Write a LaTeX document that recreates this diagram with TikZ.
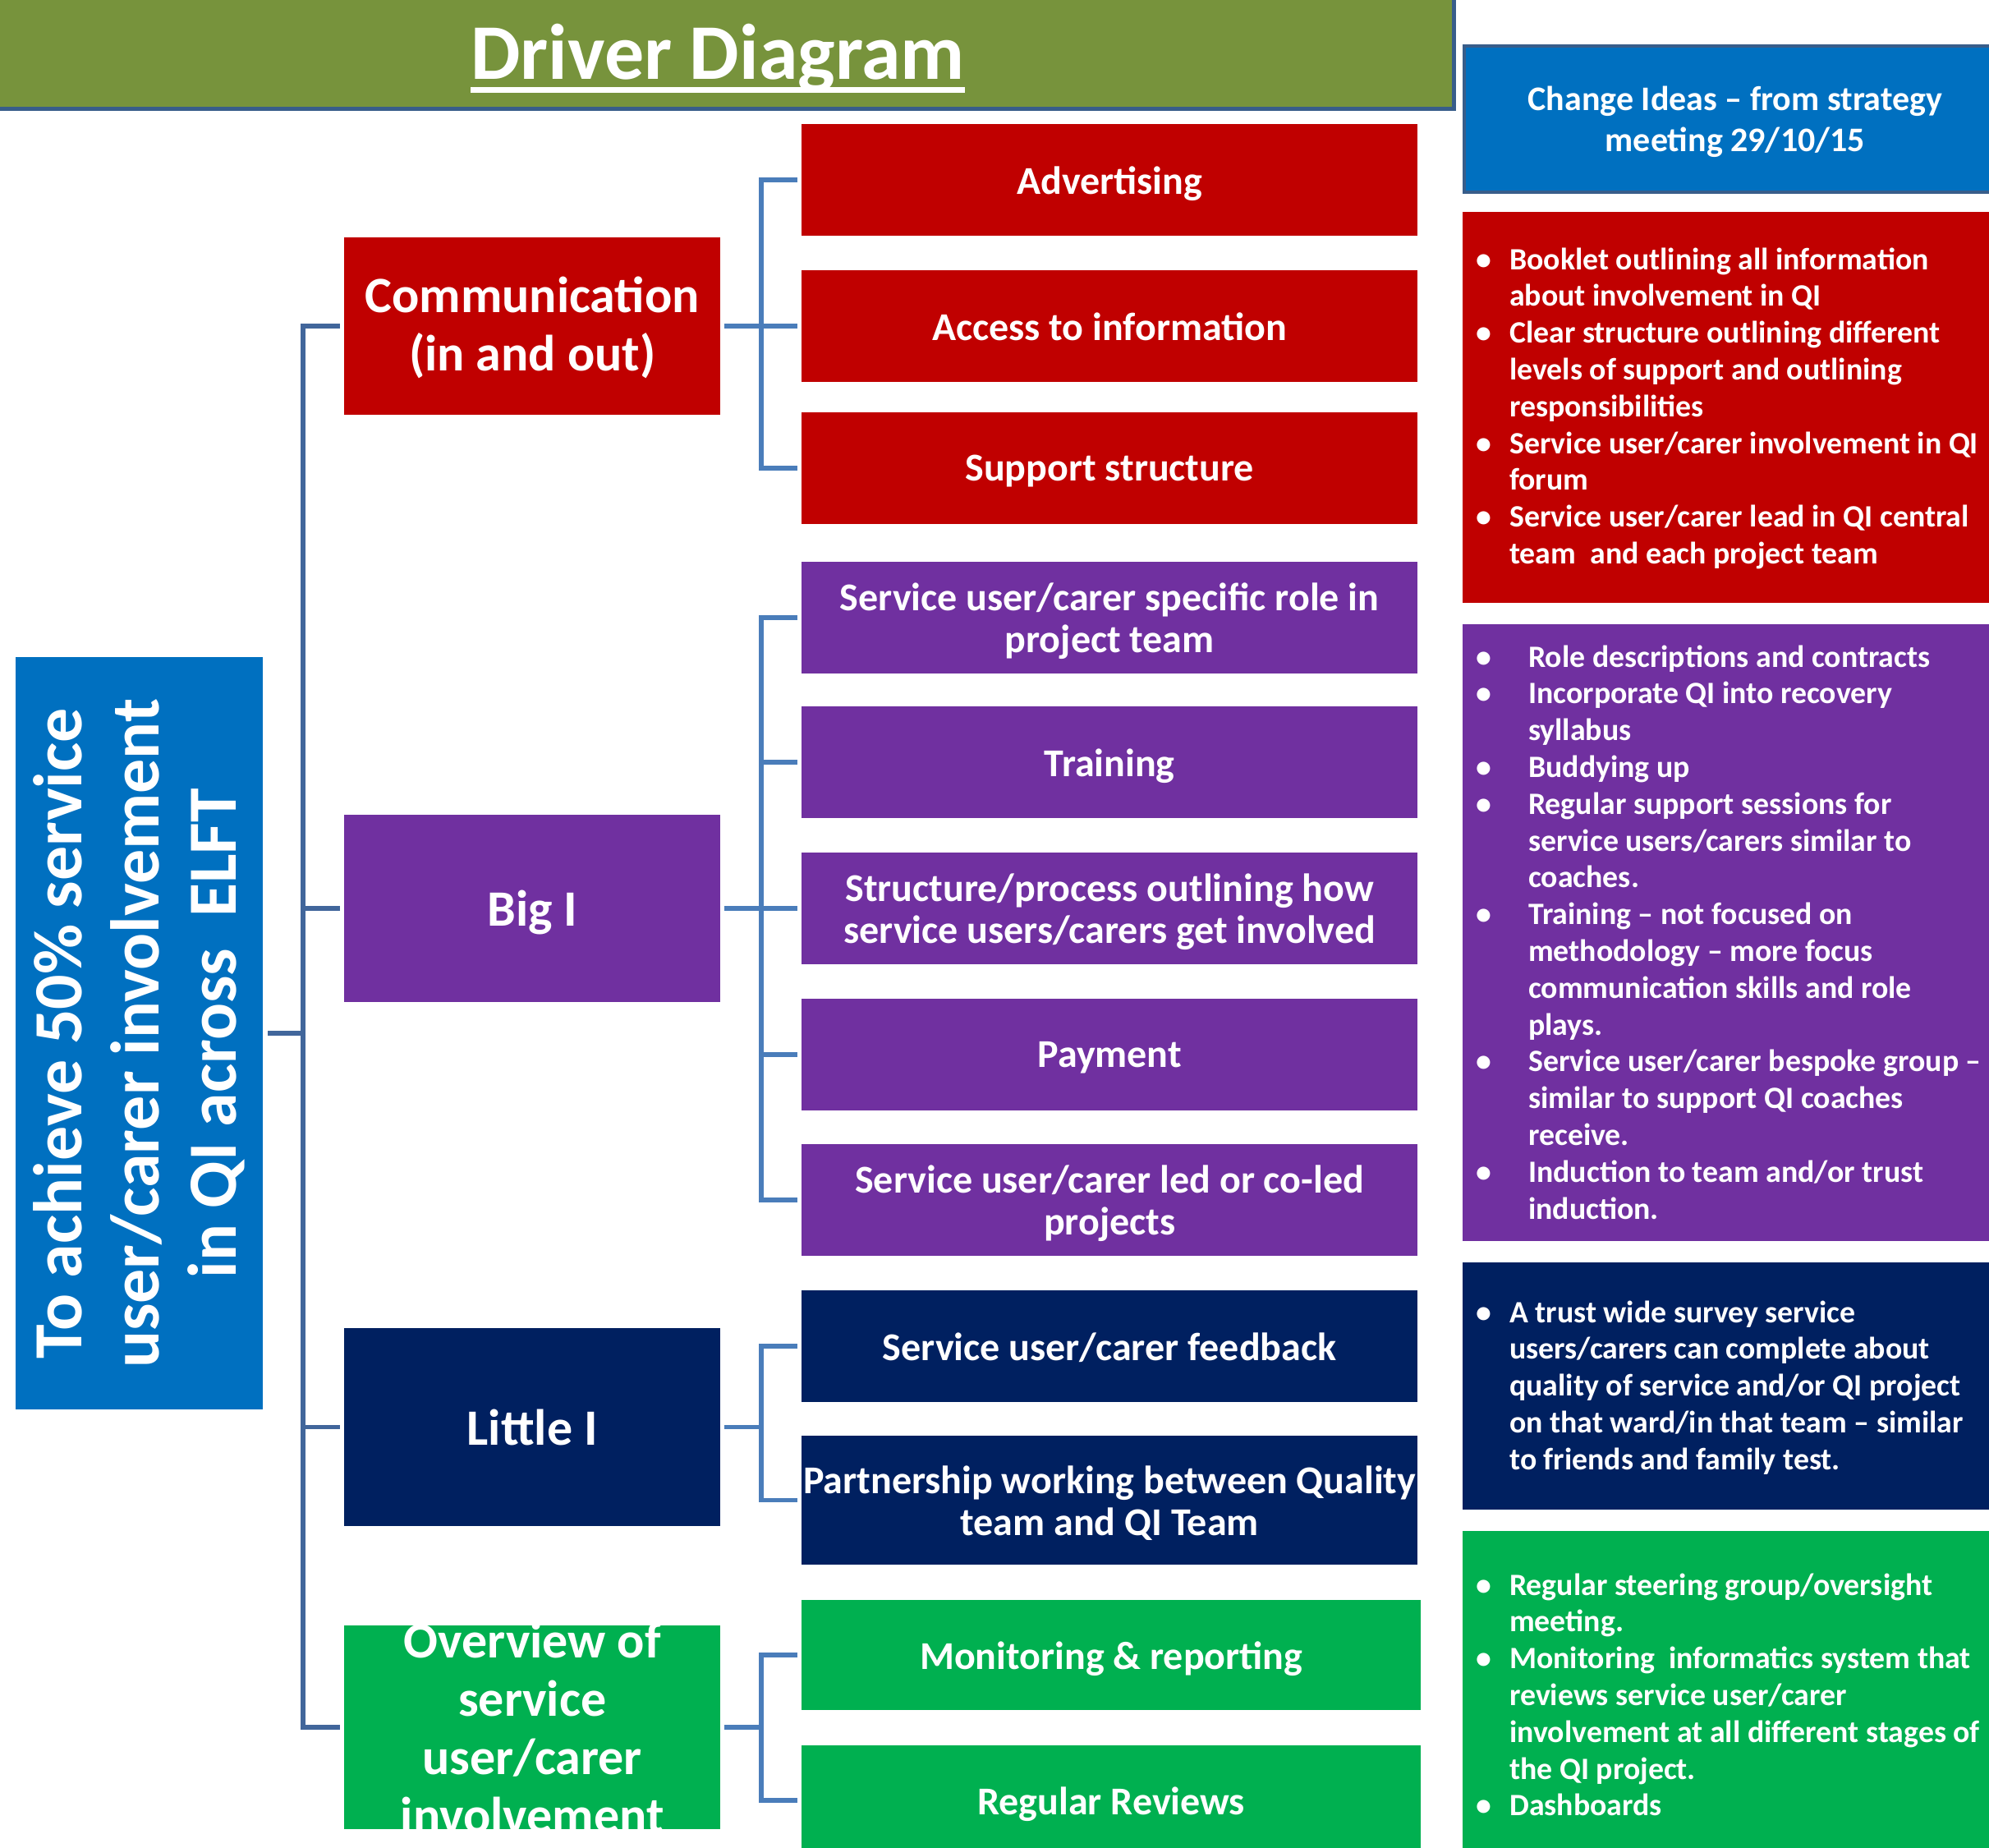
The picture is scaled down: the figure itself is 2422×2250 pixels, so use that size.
\documentclass[tikz,border=0pt]{standalone}
\usepackage{fontspec}
\setmainfont{Carlito}
\definecolor{colive}{HTML}{77933C}
\definecolor{cborder}{HTML}{385D8A}
\definecolor{cblue}{HTML}{0070C0}
\definecolor{cred}{HTML}{C00000}
\definecolor{cpur}{HTML}{7030A0}
\definecolor{cnavy}{HTML}{002060}
\definecolor{cgreen}{HTML}{00B050}
\definecolor{lineblue}{HTML}{4A7DBA}
\definecolor{trunkblue}{HTML}{41669B}
\newcommand\titlefnt{\fontsize{96}{110}\selectfont\bfseries}
\newcommand\primfnt{\fontsize{62}{71}\selectfont\bfseries}
\newcommand\secfnt{\fontsize{48}{51}\selectfont\bfseries}
\newcommand\goalfnt{\fontsize{84}{94}\selectfont\bfseries}
\newcommand\hdrfnt{\fontsize{42}{50}\selectfont\bfseries}
\newcommand\blist[2]{\parbox[t]{800pt}{\raggedright\fontsize{37.8}{44.8}\selectfont\bfseries\setlength{\parindent}{0pt}\setlength{\parskip}{0pt}\def\bi{\par\hangindent=#1\hangafter=1\noindent\makebox[#1][l]{•}}#2}}
\begin{document}
\begin{tikzpicture}[x=1pt,y=-1pt,
  conn/.style={draw=lineblue, line width=5.5pt},
  tconn/.style={draw=trunkblue, line width=5.5pt},
  box/.style={anchor=north west, inner sep=0pt, align=center, text=white, text depth=0pt},
  sbox/.style={box, minimum width=750pt, minimum height=136pt, font=\secfnt},
  pbox/.style={box, minimum width=458pt, font=\primfnt},
  cbox/.style={box, minimum width=660pt}]
\useasboundingbox (0,0) rectangle (2422,2250);
% title bar
\node[box, fill=colive, draw=cborder, line width=5pt, minimum width=1778pt, minimum height=140pt] (bar) at (-10,-10) {};
\node[font=\titlefnt, text=white, anchor=base, inner sep=0pt] (ttl) at (874,97) {Driver Diagram};
\draw[white, line width=7pt] ([yshift=-13pt]ttl.base west) -- ([yshift=-13pt]ttl.base east);
% goal
\node[box, fill=cblue, minimum width=301pt, minimum height=916pt] (goal) at (19,800) {};
\node[rotate=90, font=\goalfnt, text=white, align=center, inner sep=0pt] (goaltxt) at (goal.center) {To achieve 50\% service\\user/carer involvement\\in QI across~~ELFT};
% primary drivers
\node[pbox, fill=cred, minimum height=216pt, text depth=6pt] (comm) at (419,289) {Communication\\(in and out)};
\node[pbox, fill=cpur, minimum height=228pt] (bigi) at (419,992) {Big I};
\node[pbox, fill=cnavy, minimum height=241pt] (little) at (419,1617) {Little I};
\node[pbox, fill=cgreen, minimum height=248pt] (over) at (419,1979) {};
\node[font=\primfnt, text=white, align=center, inner sep=0pt, text depth=0pt] (overtxt) at (over.center) {Overview of\\service\\user/carer\\involvement};
% secondary drivers
\node[sbox, fill=cred] (adv) at (976,151) {Advertising};
\node[sbox, fill=cred] (acc) at (976,329) {Access to information};
\node[sbox, fill=cred] (sup) at (976,502) {Support structure};
\node[sbox, fill=cpur] (role) at (976,684) {Service user/carer specific role in\\project team};
\node[sbox, fill=cpur] (trn) at (976,860) {Training};
\node[sbox, fill=cpur] (str) at (976,1038) {Structure/process outlining how\\service users/carers get involved};
\node[sbox, fill=cpur] (pay) at (976,1216) {Payment};
\node[sbox, fill=cpur] (led) at (976,1393) {Service user/carer led or co-led\\projects};
\node[sbox, fill=cnavy] (fb) at (976,1571) {Service user/carer feedback};
\node[sbox, fill=cnavy, minimum height=157pt] (part) at (976,1748) {Partnership working between Quality\\team and QI Team};
\node[sbox, fill=cgreen, minimum width=754pt, minimum height=134pt] (mon) at (976,1948) {Monitoring \& reporting};
\node[sbox, fill=cgreen, minimum width=754pt, minimum height=134pt] (rev) at (976,2125) {Regular Reviews};
% connectors
\coordinate (tx) at (369,0);
\coordinate (bx) at (927,0);
\draw[tconn, shorten <=6pt] (goal.east) -- (goal.east -| tx);
\draw[tconn, shorten <=5pt, shorten >=5pt] (comm.west) -- (comm.west -| tx) -- (over.west -| tx) -- (over.west);
\draw[tconn, shorten >=5pt] (bigi.west -| tx) -- (bigi.west);
\draw[tconn, shorten >=5pt] (little.west -| tx) -- (little.west);
\draw[conn, shorten <=5pt] (comm.east) -- (comm.east -| bx);
\draw[conn, shorten <=5pt, shorten >=5pt] (adv.west) -- (adv.west -| bx) -- (sup.west -| bx) -- (sup.west);
\draw[conn, shorten >=5pt] (acc.west -| bx) -- (acc.west);
\draw[conn, shorten <=5pt] (bigi.east) -- (bigi.east -| bx);
\draw[conn, shorten <=5pt, shorten >=5pt] (role.west) -- (role.west -| bx) -- (led.west -| bx) -- (led.west);
\draw[conn, shorten >=5pt] (trn.west -| bx) -- (trn.west);
\draw[conn, shorten >=5pt] (str.west -| bx) -- (str.west);
\draw[conn, shorten >=5pt] (pay.west -| bx) -- (pay.west);
\draw[conn, shorten <=5pt] (little.east) -- (little.east -| bx);
\draw[conn, shorten <=5pt, shorten >=5pt] (fb.west) -- (fb.west -| bx) -- (part.west -| bx) -- (part.west);
\draw[conn, shorten <=5pt] (over.east) -- (over.east -| bx);
\draw[conn, shorten <=5pt, shorten >=5pt] (mon.west) -- (mon.west -| bx) -- (rev.west -| bx) -- (rev.west);
% change ideas
\node[cbox, fill=cblue, draw=cborder, line width=4pt, minimum height=178pt, font=\hdrfnt] (hdr) at (1781,54) {Change Ideas -- from strategy\\meeting 29/10/15};
\node[cbox, fill=cred, minimum height=476pt] (cred1) at (1781,258) {};
\node[cbox, fill=cpur, minimum height=751pt] (cpur1) at (1781,760) {};
\node[cbox, fill=cnavy, minimum height=301pt] (cnavy1) at (1781,1537) {};
\node[cbox, fill=cgreen, minimum height=400pt] (cgreen1) at (1781,1864) {};
\node[anchor=base west, inner sep=0pt, text=white] (redtxt) at (1797,328) {\blist{41pt}{%
\bi Booklet outlining all information\newline about involvement in QI
\bi Clear structure outlining different\newline levels of support and outlining\newline responsibilities
\bi Service user/carer involvement in QI\newline forum
\bi Service user/carer lead in QI central\newline team~ and each project team}};
\node[anchor=base west, inner sep=0pt, text=white] (purtxt) at (1797,812) {\blist{64pt}{%
\bi Role descriptions and contracts
\bi Incorporate QI into recovery\newline syllabus
\bi Buddying up
\bi Regular support sessions for\newline service users/carers similar to\newline coaches.
\bi Training -- not focused on\newline methodology -- more focus\newline communication skills and role\newline plays.
\bi Service user/carer bespoke group --\newline similar to support QI coaches\newline receive.
\bi Induction to team and/or trust\newline induction.}};
\node[anchor=base west, inner sep=0pt, text=white] (navytxt) at (1797,1610) {\blist{41pt}{%
\bi A trust wide survey service\newline users/carers can complete about\newline quality of service and/or QI project\newline on that ward/in that team -- similar\newline to friends and family test.}};
\node[anchor=base west, inner sep=0pt, text=white] (greentxt) at (1797,1942) {\blist{41pt}{%
\bi Regular steering group/oversight\newline meeting.
\bi Monitoring~ informatics system that\newline reviews service user/carer\newline involvement at all different stages of\newline the QI project.
\bi Dashboards}};
\end{tikzpicture}
\end{document}
